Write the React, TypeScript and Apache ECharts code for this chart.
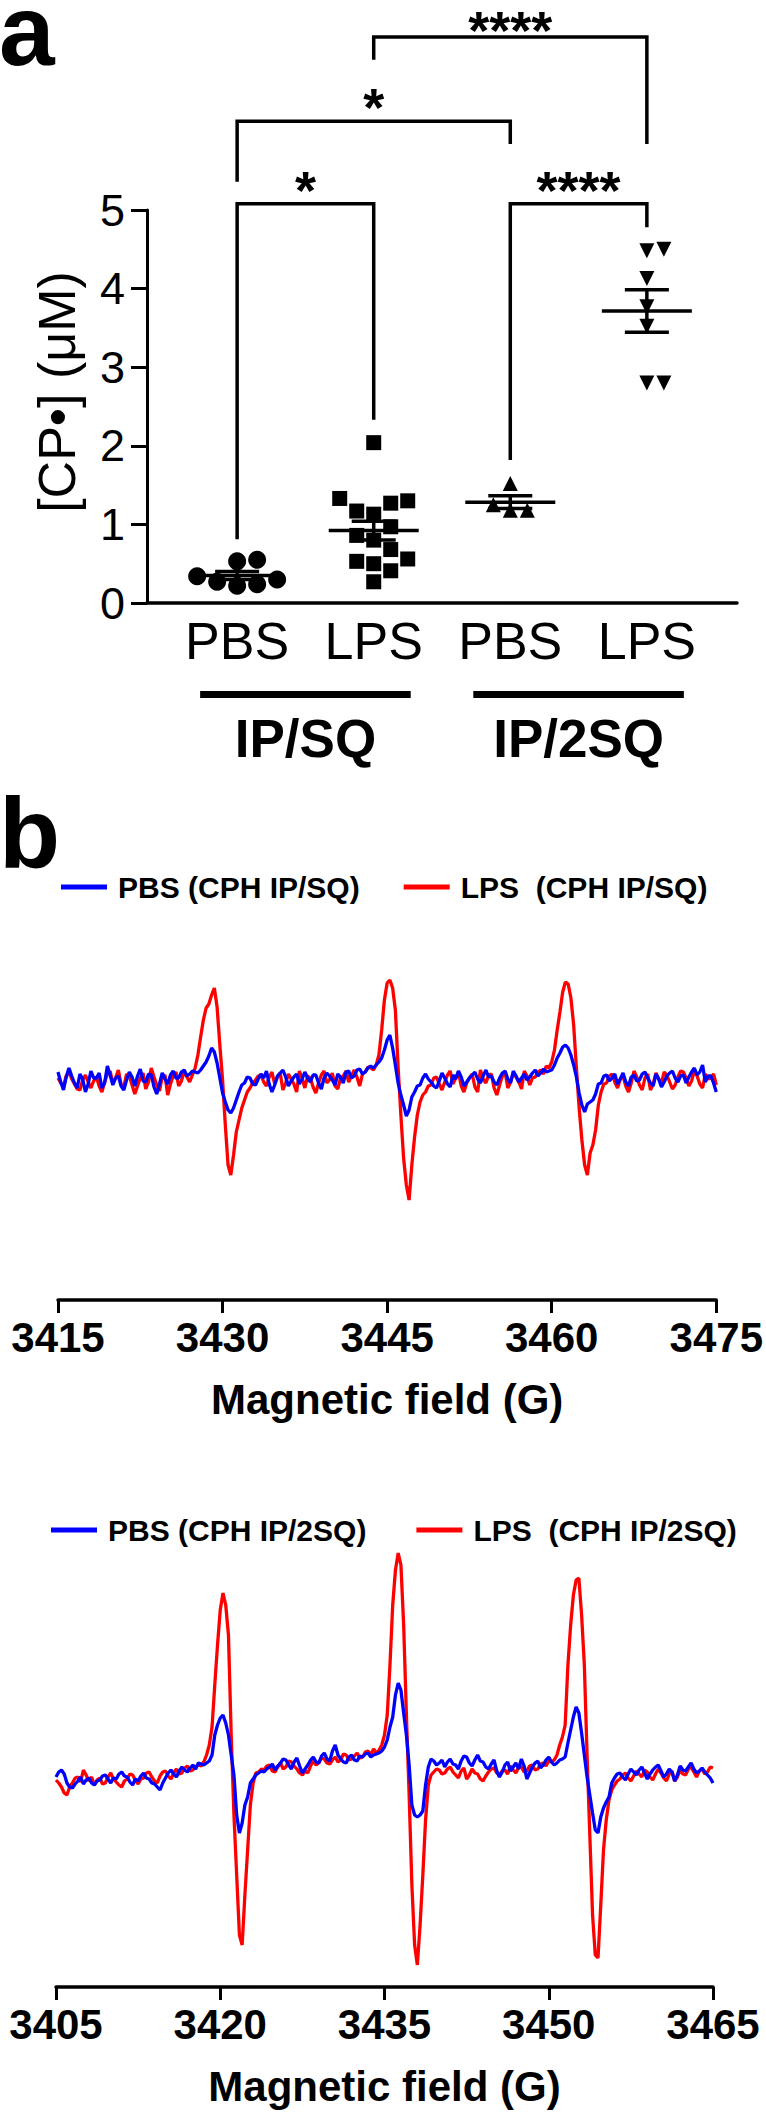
import React, { useEffect, useRef } from "react";
import * as echarts from "echarts";

const FONT = "'Liberation Sans', Arial, Helvetica, sans-serif";

// ---------- Panel a : [CP•] (μM) ----------
const CATEGORIES = ["PBS", "LPS", "PBS", "LPS"];
const PBS_IPSQ = [0.55, 0.53, 0.34, 0.3, 0.27, 0.24, 0.22];
const LPS_IPSQ = [2.04, 1.33, 1.3, 1.27, 1.17, 1.13, 0.97, 0.86, 0.8, 0.68, 0.56, 0.53, 0.5, 0.41, 0.27];
const PBS_IP2SQ = [1.52, 1.25, 1.18, 1.18];
const LPS_IP2SQ = [4.5, 4.48, 4.13, 3.77, 3.52, 2.8, 2.8];
const A_Y_MAX = 5;
const ROUTE_LABELS = ["IP/SQ", "IP/2SQ"];
const ROUTE_FROM = [1, 3];
const ROUTE_TO = [2, 4];
// significance brackets (x from / to, bracket height, leg ends, label)
const SIG_FROM = [1, 3, 1, 2];
const SIG_TO = [2, 4, 3, 4];
const SIG_TOP = [5.08, 5.08, 6.13, 7.2];
const SIG_LEFT = [0.81, 1.82, 5.36, 6.91];
const SIG_RIGHT = [2.33, 4.78, 5.84, 5.84];
const SIG_LABEL = ["*", "****", "*", "****"];

// ---------- Panel b : EPR spectra (arbitrary units, 0.25 G steps) ----------
const FIELD_STEP = 0.25;
const FIELD1_START = 3415;
const FIELD1_TICKS = [3415, 3430, 3445, 3460, 3475];
const FIELD2_START = 3405;
const FIELD2_TICKS = [3405, 3420, 3435, 3450, 3465];

const PBS_SQ_SPEC = [
  8, -2, -10, 3, 12, 4, -3, -8, 6, 1, -12, -4, 9, 2, 2, 7, -8, -3, 14, 5, -5, 2, 4, -6, -10, 0,
  8, 3, -6, 4, 11, -1, -2, 6, 5, -7, -14, -4, 7, 1, -4, 5, 9, 2, 2, 8, 10, 4, 6, 9, 8, 7,
  10, 14, 18, 24, 32, 28, 17, 2, -13, -22, -30, -33, -28, -20, -12, -5, -3, 3, 2, -4, -5, 1,
  6, 2, 9, -4, -12, -5, 4, 7, 10, 3, -6, -1, 3, 6, -4, 1, 8, 2, -2, 5, 5, -3, -9, 2, 7, 4,
  0, -5, 6, 3, -3, 8, 9, 2, 4, 10, 11, 6, 8, 12, 14, 12,
  15, 18, 22, 30, 40, 45, 32, 15, -3, -15, -25, -36, -30, -17, -12, -6, -5, 2, 6, 1, -2, -6,
  -8, -1, 7, 2, -4, -7, 5, 1, 9, 3, -6, -2, 2, 5, 8, 1, -3, 4, 10, 3, 4, -2, -5, 2, 7, 9,
  1, -3, 9, 4, -2, 2, 6, 0, 3, 7, 10, 4, 7, 11, 8, 9,
  10, 15, 22, 27, 33, 35, 32, 25, 15, 3, -13, -25, -32, -24, -22, -20, -14, -4, -3, 4, 5, -1,
  2, 6, -4, 1, 7, -2, -6, 3, 5, -1, 0, 6, 8, 2, -3, -6, 6, 1, -7, -2, 4, 7, 9, 2, -2, 4,
  5, -3, 3, 8, 12, 5, 8, 15, -2, 4, 4, -3, -12,
];
const LPS_SQ_SPEC = [
  2, -3, -6, 4, 8, 1, -4, -9, -10, 0, 5, -2, -8, -1, 3, -6, -12, -2, 6, 9, -3, 2, 10, -4, -7, 6,
  4, -5, -14, -6, 2, 7, -9, -2, 12, 3, -5, -11, 3, 5, -15, -4, 4, 8, -6, -1, 9, 3, -2, 5, 12, 25,
  43, 60, 72, 76, 85, 92, 73, 35, 0, -45, -85, -95, -75, -52, -40, -28, -20, -12, -8, -3, 0, 4,
  5, -2, -6, 3, 8, -4, 3, 7, -10, -3, 6, 1, -4, -12, 9, 2, -8, 4, 2, -7, -13, -3, 5, 9, -3, 0,
  7, -6, -9, 2, 4, 9, -2, 4, 10, 3, -6, 6, 8, 13, 12, 10,
  15, 25, 50, 80, 97, 100, 92, 70, 13, -35, -78, -105, -120, -85, -57, -35, -22, -15, -12, -6, -5, 2,
  3, -4, -10, -2, 5, 9, -4, 2, 8, -6, -12, -3, 2, 6, -7, -12, 10, 1, -3, 5, 6, -8, -15, -5, 4, 8,
  -8, -2, 7, 3, -2, -9, 9, 4, -5, 2, 3, 8, 10, 6, 14, 12,
  18, 30, 50, 68, 88, 98, 96, 82, 55, 12, -28, -60, -85, -95, -73, -65, -50, -25, -12, -4, -3, 4,
  6, -2, -8, 1, 4, -6, -12, -3, 9, 3, -5, -10, 2, 6, -10, -4, 7, 1, -3, 8, 5, -2, -9, -5, 3, 9,
  8, 2, -6, -1, 10, 4, -4, -8, 6, 1, 2, 6, -5,
];
const PBS_2SQ_SPEC = [
  -2, 3, 5, 1, -8, -12, -13, -9, -6, -2, -9, -5, -3, -8, -10, -6, -5, -1, 0, -4, -8, -3, -4, 1, 3, -1,
  -2, -7, -10, -4, -6, -1, 2, -3, -4, -8, -9, -12, -15, -8, -3, 2, 5, 1, -2, 4, 8, 5, 3, 7, 10, 6, 12, 11,
  10, 12, 14, 20, 40, 50, 57, 60, 52, 40, 20, 0, -40, -58, -48, -30, -22, -8, -4, 0, 2, 4,
  3, 6, 8, 11, 5, 9, 12, 16, 15, 10, 6, 13, 17, 9, 2, 6, 10, 15, 18, 13, 12, 19, 22, 16, 14, 24,
  30, 20, 16, 13, 12, 18, 20, 15, 14, 19, 18, 21, 22, 18, 20, 21,
  22, 24, 28, 35, 48, 58, 80, 92, 85, 62, 40, 10, -30, -40, -42, -40, -36, -10, 8, 16, 14, 10,
  12, 15, 8, 13, 16, 11, 10, 6, 14, 19, 18, 12, 9, 15, 20, 14, 13, 8, 6, 11, 15, 4, -2, 3, 10, 13,
  4, 8, 12, 6, 16, 9, -4, 2, 8, 12, 14, 7, 10, 15, 18, 13,
  10, 12, 15, 16, 18, 32, 45, 58, 68, 62, 42, 20, -2, -20, -38, -55, -58, -42, -33, -27, -22, -8, -3, 1,
  2, -2, -5, 1, 6, 3, 0, 5, 8, 2, -4, 1, 5, 8, 10, 4, -2, 1, 6, 3, -6, 0, 9, 5, 4, 8,
  12, 6, 2, 4, 7, 3, 0, -3, -8,
];
const LPS_2SQ_SPEC = [
  -5, -8, -12, -18, -20, -12, -8, -3, -2, -7, 5, 0, -6, -2, -10, -5, -3, -9, -8, -2, 2, -4, -7, -10, -12, -6,
  -4, 1, 0, -5, -9, -4, -3, 2, 3, -2, -6, -8, -1, 3, 4, -1, -4, 2, 6, 1, 2, 7, 9, 4, 5, 8, 10, 9,
  13, 20, 30, 48, 90, 130, 165, 182, 170, 140, 40, -40, -100, -160, -170, -120, -75, -30, -8, 2, 3, 6,
  5, 9, 10, 4, 3, 8, 12, 6, 8, 14, 13, 9, 6, 2, 0, 4, 2, 9, 14, 10, 12, 17, 16, 12, 11, 15,
  18, 13, 15, 21, 20, 15, 16, 19, 22, 17, 18, 23, 24, 20, 26, 22,
  25, 30, 40, 60, 110, 170, 205, 222, 210, 150, 60, -20, -110, -170, -190, -150, -100, -45, -10, 0, 3, 6,
  5, 1, 2, 6, 8, 3, 0, -3, 4, 7, -4, 0, 6, 2, 1, -4, -6, -1, 3, 6, 7, 2, 0, 4, 5, 1,
  9, 5, 2, 8, 8, 3, 4, 9, 10, 5, 6, 11, 12, 9, 14, 13,
  15, 20, 30, 38, 50, 110, 150, 180, 195, 197, 160, 110, 20, -60, -140, -180, -183, -130, -75, -45, -25, -15, -10, -6,
  -4, 0, 2, -3, -6, -1, 4, 1, -2, 5, 3, -2, -5, 1, 6, 2, -3, -6, 1, 4, -6, -2, 5, 1, 0, 6,
  8, 3, -2, 4, 6, 1, 3, 8, 7,
];

const NAME_PBS1 = "PBS (CPH IP/SQ)";
const NAME_LPS1 = "LPS  (CPH IP/SQ)";
const NAME_PBS2 = "PBS (CPH IP/2SQ)";
const NAME_LPS2 = "LPS  (CPH IP/2SQ)";

// ---------- layout ----------
const A_GRID = { left: 147, top: 210, width: 590, height: 393 };
const A_X_MIN = 0.34;
const A_X_MAX = 4.66;
const B1_GRID = { left: 58, top: 930, width: 662, height: 370 };
const B1_Y = [-220, 150];
const B2_GRID = { left: 56, top: 1545, width: 657, height: 442 };
const B2_Y = [-212, 230];

const mean = (a: number[]) => a.reduce((s, v) => s + v, 0) / a.length;
const sem = (a: number[]) => {
  const m = mean(a);
  const v = a.reduce((s, x) => s + (x - m) * (x - m), 0) / (a.length - 1);
  return Math.sqrt(v / a.length);
};

// beeswarm-style horizontal spreading of points (in px, converted to x units)
function swarm(values: number[], cx: number, d: number): number[][] {
  const pxX = A_GRID.width / (A_X_MAX - A_X_MIN);
  const pxY = A_GRID.height / A_Y_MAX;
  const order = values.map((_, i) => i).sort((a, b) => values[a] - values[b]);
  const placed: { x: number; y: number }[] = [];
  const out: number[][] = new Array(values.length);
  for (const i of order) {
    const y = values[i] * pxY;
    let off = 0;
    for (let k = 0; k < 40; k++) {
      const cand = k === 0 ? 0 : (k % 2 === 1 ? 1 : -1) * Math.ceil(k / 2) * d;
      const ok = placed.every((p) => Math.hypot(p.x - cand, p.y - y) >= d * 0.97);
      if (ok) {
        off = cand;
        break;
      }
    }
    placed.push({ x: off, y });
    out[i] = [cx + off / pxX, values[i]];
  }
  return out;
}

const series1D = (
  name: string,
  values: number[],
  cx: number,
  symbol: string,
  size: number,
  rotate = 0
) => ({
  type: "scatter",
  name,
  xAxisIndex: 0,
  yAxisIndex: 0,
  symbol,
  symbolSize: size,
  symbolRotate: rotate,
  itemStyle: { color: "#000", opacity: 1 },
  data: swarm(values, cx, size + 2),
  silent: true,
  z: 3,
});

const specData = (start: number, arr: number[]) =>
  arr.map((v, i) => [start + i * FIELD_STEP, v]);

export default function App() {
  const ref = useRef<HTMLDivElement>(null);
  useEffect(() => {
    if (!ref.current) return;
    const chart = echarts.init(ref.current, undefined, { renderer: "svg" });
    const groups = [PBS_IPSQ, LPS_IPSQ, PBS_IP2SQ, LPS_IP2SQ];
    const black = "#000";
    const specAxis = (grid: number, min: number, max: number, ticks: number[]) => ({
      type: "value",
      gridIndex: grid,
      min,
      max,
      axisLine: { show: true, onZero: false, lineStyle: { color: black, width: 3.5 } },
      axisTick: { show: true, customValues: ticks, length: 13, lineStyle: { color: black, width: 3 } },
      axisLabel: {
        customValues: ticks,
        formatter: (v: number) => String(v),
        fontSize: 42,
        fontWeight: "bold",
        fontFamily: FONT,
        color: black,
        margin: 16,
      },
      splitLine: { show: false },
      name: "Magnetic field (G)",
      nameLocation: "middle",
      nameGap: 78,
      nameTextStyle: { fontSize: 42, fontWeight: "bold", fontFamily: FONT, color: black },
    });
    const legend = (left: number, top: number, gap: number, data: string[]) => ({
      left,
      top,
      orient: "horizontal",
      itemWidth: 46,
      itemHeight: 5,
      itemGap: gap,
      icon: "rect",
      padding: 0,
      selectedMode: false,
      data,
      textStyle: { fontSize: 30, fontWeight: "bold", fontFamily: FONT, color: black, padding: [0, 0, 0, 6] },
    });
    const lineSeries = (name: string, color: string, xi: number, data: number[][], z: number) => ({
      type: "line",
      name,
      xAxisIndex: xi,
      yAxisIndex: xi,
      data,
      showSymbol: false,
      symbol: "none",
      lineStyle: { color, width: 3.3 },
      itemStyle: { color },
      silent: true,
      z,
    });
    const gText = (text: string, x: number, y: number, size: number, bold: boolean, rotation = 0, align = "left") => ({
      type: "text",
      x,
      y,
      rotation,
      style: {
        text,
        fontSize: size,
        fontWeight: bold ? "bold" : "normal",
        fontFamily: FONT,
        fill: black,
        align,
        verticalAlign: "middle",
        textAlign: align,
        textVerticalAlign: "middle",
      },
    });

    const option: any = {
      animation: false,
      backgroundColor: "#fff",
      textStyle: { fontFamily: FONT },
      grid: [
        { ...A_GRID, containLabel: false },
        { ...B1_GRID, containLabel: false },
        { ...B2_GRID, containLabel: false },
      ],
      legend: [
        legend(61, 872, 44, [NAME_PBS1, NAME_LPS1]),
        legend(51, 1515, 50, [NAME_PBS2, NAME_LPS2]),
      ],
      xAxis: [
        {
          type: "value",
          gridIndex: 0,
          min: A_X_MIN,
          max: A_X_MAX,
          axisLine: { show: true, onZero: false, lineStyle: { color: black, width: 3.5 } },
          axisTick: { show: false },
          axisLabel: {
            customValues: [1, 2, 3, 4],
            formatter: (v: number) => CATEGORIES[Math.round(v) - 1] ?? "",
            fontSize: 52,
            fontFamily: FONT,
            color: black,
            margin: 12,
          },
          splitLine: { show: false },
        },
        specAxis(1, FIELD1_START, FIELD1_TICKS[FIELD1_TICKS.length - 1], FIELD1_TICKS),
        specAxis(2, FIELD2_START, FIELD2_TICKS[FIELD2_TICKS.length - 1], FIELD2_TICKS),
      ],
      yAxis: [
        {
          type: "value",
          gridIndex: 0,
          min: 0,
          max: A_Y_MAX,
          interval: 1,
          axisLine: { show: true, lineStyle: { color: black, width: 3 } },
          axisTick: { show: true, length: 16, lineStyle: { color: black, width: 3 } },
          axisLabel: { fontSize: 45, fontFamily: FONT, color: black, margin: 22 },
          splitLine: { show: false },
        },
        { type: "value", gridIndex: 1, min: B1_Y[0], max: B1_Y[1], show: false, splitLine: { show: false } },
        { type: "value", gridIndex: 2, min: B2_Y[0], max: B2_Y[1], show: false, splitLine: { show: false } },
      ],
      graphic: [
        gText("a", -1, 30, 100, true),
        gText("b", -1, 833, 100, true),
        gText("[CP•] (μM)", 57, 392, 52, false, Math.PI / 2, "center"),
      ],
      series: [
        series1D("PBS IP/SQ", PBS_IPSQ, 1, "circle", 18),
        series1D("LPS IP/SQ", LPS_IPSQ, 2, "rect", 15),
        series1D("PBS IP/2SQ", PBS_IP2SQ, 3, "triangle", 15),
        series1D("LPS IP/2SQ", LPS_IP2SQ, 4, "triangle", 15, 180),
        {
          type: "custom",
          name: "mean ± SEM",
          xAxisIndex: 0,
          yAxisIndex: 0,
          clip: false,
          silent: true,
          z: 4,
          data: groups.map((g, i) => [i + 1, mean(g), sem(g)]),
          renderItem: (params: any, api: any) => {
            const x = api.value(0);
            const m = api.value(1);
            const s = api.value(2);
            const c = api.coord([x, m]);
            const hi = api.coord([x, m + s]);
            const lo = api.coord([x, m - s]);
            const st = { stroke: black, lineWidth: 3.5 };
            return {
              type: "group",
              children: [
                { type: "line", shape: { x1: c[0] - 45, y1: c[1], x2: c[0] + 45, y2: c[1] }, style: st },
                { type: "line", shape: { x1: c[0] - 22, y1: hi[1], x2: c[0] + 22, y2: hi[1] }, style: st },
                { type: "line", shape: { x1: c[0] - 22, y1: lo[1], x2: c[0] + 22, y2: lo[1] }, style: st },
                { type: "line", shape: { x1: c[0], y1: hi[1], x2: c[0], y2: lo[1] }, style: st },
              ],
            };
          },
        },
        {
          type: "custom",
          name: "significance",
          xAxisIndex: 0,
          yAxisIndex: 0,
          clip: false,
          silent: true,
          z: 5,
          data: SIG_FROM.map((f, i) => [f, SIG_TO[i], SIG_TOP[i], SIG_LEFT[i], SIG_RIGHT[i]]),
          renderItem: (params: any, api: any) => {
            const x1 = api.value(0);
            const x2 = api.value(1);
            const top = api.value(2);
            const pL = api.coord([x1, api.value(3)]);
            const p1 = api.coord([x1, top]);
            const p2 = api.coord([x2, top]);
            const pR = api.coord([x2, api.value(4)]);
            return {
              type: "group",
              children: [
                {
                  type: "polyline",
                  shape: { points: [pL, p1, p2, pR] },
                  style: { stroke: black, lineWidth: 3.5, fill: null, lineJoin: "miter" },
                },
                {
                  type: "text",
                  x: (p1[0] + p2[0]) / 2,
                  y: Math.max(p1[1] - 14, 30),
                  style: {
                    text: SIG_LABEL[params.dataIndex],
                    fontSize: 54,
                    fontWeight: "bold",
                    fontFamily: FONT,
                    fill: black,
                    align: "center",
                    verticalAlign: "middle",
                  },
                },
              ],
            };
          },
        },
        {
          type: "custom",
          name: "route",
          xAxisIndex: 0,
          yAxisIndex: 0,
          clip: false,
          silent: true,
          data: ROUTE_FROM.map((f, i) => [f, 0, ROUTE_TO[i]]),
          renderItem: (params: any, api: any) => {
            const a = api.coord([api.value(0), 0]);
            const b = api.coord([api.value(2), 0]);
            return {
              type: "group",
              children: [
                { type: "rect", shape: { x: a[0] - 37, y: a[1] + 88, width: b[0] - a[0] + 74, height: 7 }, style: { fill: black } },
                {
                  type: "text",
                  x: (a[0] + b[0]) / 2,
                  y: a[1] + 135,
                  style: {
                    text: ROUTE_LABELS[params.dataIndex],
                    fontSize: 53,
                    fontWeight: "bold",
                    fontFamily: FONT,
                    fill: black,
                    align: "center",
                    verticalAlign: "middle",
                  },
                },
              ],
            };
          },
        },
        lineSeries(NAME_LPS1, "#ff0000", 1, specData(FIELD1_START, LPS_SQ_SPEC), 2),
        lineSeries(NAME_PBS1, "#0000ff", 1, specData(FIELD1_START, PBS_SQ_SPEC), 3),
        lineSeries(NAME_LPS2, "#ff0000", 2, specData(FIELD2_START, LPS_2SQ_SPEC), 2),
        lineSeries(NAME_PBS2, "#0000ff", 2, specData(FIELD2_START, PBS_2SQ_SPEC), 3),
      ],
    };
    chart.setOption(option);
    return () => chart.dispose();
  }, []);
  return (
    <div
      ref={ref}
      style={{ position: "absolute", left: 0, top: 0, width: 766, height: 2114, background: "#fff" }}
    />
  );
}
